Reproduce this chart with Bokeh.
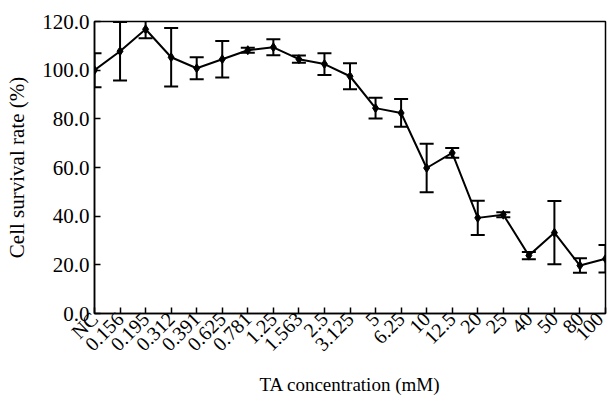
import math
from bokeh.plotting import figure
from bokeh.models import ColumnDataSource, Whisker, TeeHead, FixedTicker, Range1d
from bokeh.embed import file_html
from bokeh.resources import INLINE

categories = ["NC", "0.156", "0.195", "0.312", "0.391", "0.625", "0.781", "1.25", "1.563",
              "2.5", "3.125", "5", "6.25", "10", "12.5", "20", "25", "40", "50", "80", "100"]
survival = [100.0, 107.8, 116.8, 105.3, 100.8, 104.5, 108.2, 109.4, 104.5, 102.5, 97.5,
            84.4, 82.4, 59.8, 66.0, 39.3, 40.6, 23.8, 33.2, 19.7, 22.5]
errors = [7.0, 12.0, 3.7, 12.0, 4.5, 7.5, 1.0, 3.3, 1.5, 4.5, 5.3,
          4.3, 5.7, 10.0, 2.0, 7.0, 1.0, 1.5, 13.0, 3.0, 5.7]
y_ticks = [0, 20, 40, 60, 80, 100, 120]

xs = list(range(len(categories)))
src = ColumnDataSource(dict(
    x=xs, y=survival,
    upper=[v + e for v, e in zip(survival, errors)],
    lower=[v - e for v, e in zip(survival, errors)],
))

FONT = "Liberation Serif"

p = figure(width=607, height=397, output_backend="svg", toolbar_location=None,
           x_range=Range1d(0, 20), y_range=Range1d(0, 120),
           min_border_left=94, min_border_right=2, min_border_top=21, min_border_bottom=83)
p.grid.visible = False
p.outline_line_color = "black"
p.outline_line_width = 1.5
p.background_fill_color = "white"
p.border_fill_color = "white"

w = Whisker(source=src, base="x", upper="upper", lower="lower",
            line_color="black", line_width=2,
            upper_head=TeeHead(size=14, line_color="black", line_width=2),
            lower_head=TeeHead(size=14, line_color="black", line_width=2))
p.add_layout(w)
p.line("x", "y", source=src, line_color="black", line_width=2)
p.scatter("x", "y", source=src, marker="diamond", size=9, color="black")

p.xaxis.ticker = FixedTicker(ticks=xs)
p.xaxis.major_label_overrides = {i: c for i, c in enumerate(categories)}
p.xaxis.major_label_orientation = math.pi / 4
p.yaxis.ticker = FixedTicker(ticks=y_ticks)
p.yaxis.major_label_overrides = {t: f"{t:.1f}" for t in y_ticks}

for ax in (p.xaxis[0], p.yaxis[0]):
    ax.axis_line_color = "black"
    ax.axis_line_width = 1.5
    ax.major_tick_in = 6
    ax.major_tick_out = 0
    ax.major_tick_line_width = 1.5
    ax.minor_tick_line_color = None
    ax.major_label_text_font = FONT
    ax.major_label_text_color = "black"
    ax.axis_label_text_font = FONT
    ax.axis_label_text_font_style = "normal"
    ax.axis_label_text_color = "black"

p.xaxis.major_label_text_font_size = "20px"
p.yaxis.major_label_text_font_size = "21px"
p.yaxis.major_label_standoff = 5
p.xaxis.major_label_standoff = 2
p.xaxis.axis_label = "TA concentration (mM)"
p.yaxis.axis_label = "Cell survival rate (%)"
p.xaxis.axis_label_text_font_size = "19px"
p.yaxis.axis_label_text_font_size = "21px"
p.xaxis.axis_label_standoff = 8
p.yaxis.axis_label_standoff = 10

open("out.html", "w").write(file_html(p, INLINE))
